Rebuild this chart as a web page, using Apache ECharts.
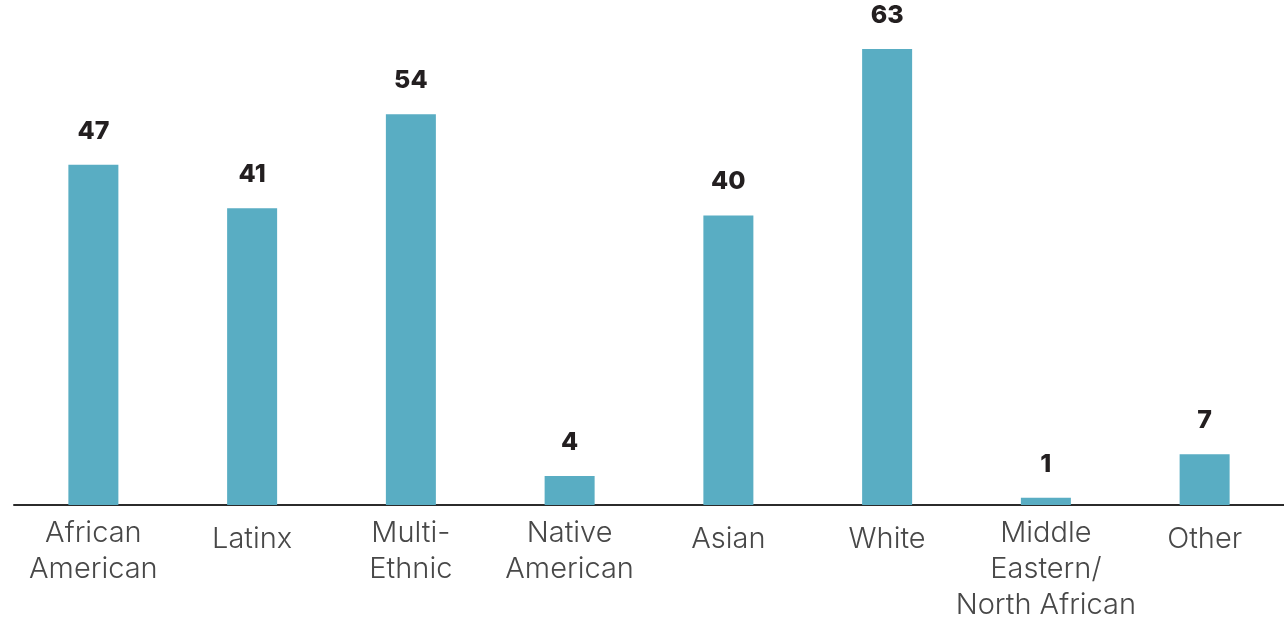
<!DOCTYPE html>
<html>
<head>
<meta charset="utf-8">
<script src="https://cdn.jsdelivr.net/npm/echarts@6/dist/echarts.min.js"></script>
<style>
html,body{margin:0;padding:0;background:#fff;}
#chart{width:1284px;height:620px;}
</style>
</head>
<body>
<div id="chart"></div>
<script>
const categories = ["African\nAmerican", "Latinx", "Multi-\nEthnic", "Native\nAmerican", "Asian", "White", "Middle\nEastern/\nNorth African", "Other"];
const values = [47, 41, 54, 4, 40, 63, 1, 7];

const chart = echarts.init(document.getElementById('chart'));
chart.setOption({
  animation: false,
  backgroundColor: '#ffffff',
  grid: { left: 14, right: 0, top: 49, bottom: 115, containLabel: false, outerBoundsMode: 'none' },
  xAxis: {
    type: 'category',
    data: categories,
    axisLine: { show: true, lineStyle: { color: '#2b2b2b', width: 2 } },
    axisTick: { show: false },
    axisLabel: {
      interval: 0,
      margin: 10,
      color: '#484848',
      fontFamily: 'Inter',
      fontWeight: 300,
      fontSize: 29,
      lineHeight: 36,
      formatter: function (v) {
        return v.indexOf('\n') < 0 ? '{s|' + v + '}' : v;
      },
      rich: {
        s: {
          fontFamily: 'Inter',
          fontWeight: 300,
          fontSize: 29,
          lineHeight: 36,
          color: '#484848',
          padding: [12, 0, 0, 0]
        }
      }
    }
  },
  yAxis: {
    type: 'value',
    min: 0,
    max: 63,
    show: false,
    splitLine: { show: false }
  },
  series: [{
    type: 'bar',
    data: values,
    barWidth: 50,
    itemStyle: { color: '#59adc3' },
    label: {
      show: true,
      position: 'top',
      distance: 21,
      color: '#231f20',
      fontFamily: 'Inter',
      fontWeight: 800,
      fontSize: 25
    }
  }]
});
</script>
</body>
</html>
